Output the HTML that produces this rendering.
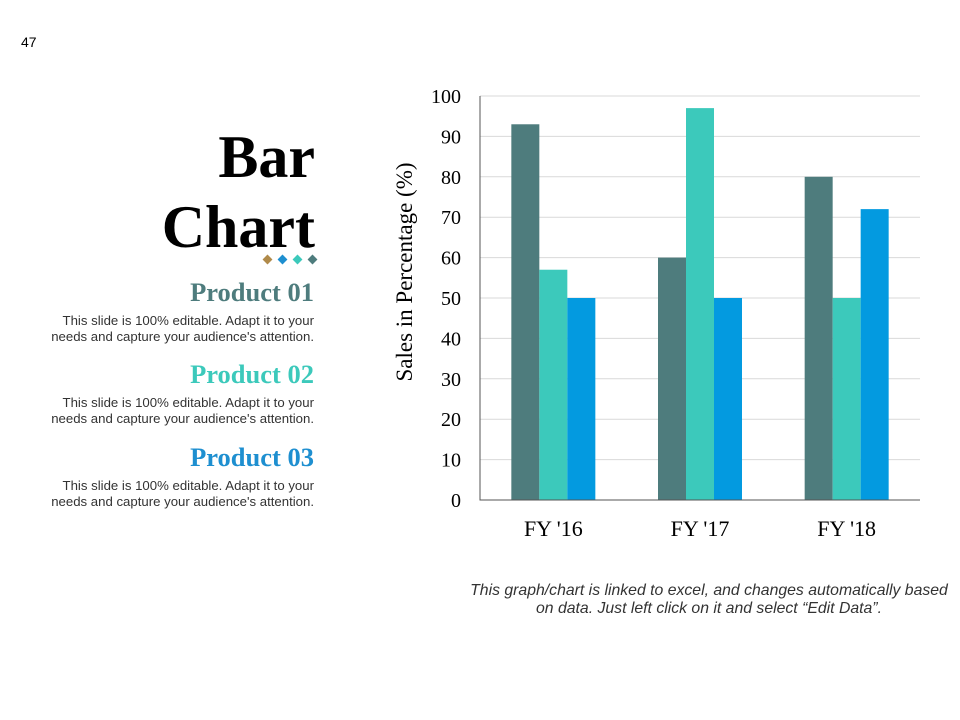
<!DOCTYPE html>
<html><head><meta charset="utf-8"><style>
body{margin:0;width:960px;height:720px;background:#fff;position:relative;overflow:hidden;font-family:"Liberation Sans",sans-serif}
.abs{position:absolute}
.title{right:645px;text-align:right;font-family:"Liberation Serif",serif;font-weight:bold;font-size:60px;line-height:70px;color:#000}
.ph{right:646px;text-align:right;font-family:"Liberation Serif",serif;font-weight:bold;font-size:26.5px}
.pd{right:646px;text-align:right;font-size:13.2px;line-height:16px;color:#333;width:272px}
</style></head><body>
<div class="abs" style="left:21px;top:34px;font-size:14px">47</div>
<div class="abs title" style="top:122px">Bar<br>Chart</div>
<svg class="abs" style="left:260px;top:253px" width="60" height="14">
<rect x="4" y="3" width="7" height="7" fill="#b08a4a" transform="rotate(45 7.5 6.5)"/>
<rect x="19" y="3" width="7" height="7" fill="#1e8fd0" transform="rotate(45 22.5 6.5)"/>
<rect x="34" y="3" width="7" height="7" fill="#3cc9bb" transform="rotate(45 37.5 6.5)"/>
<rect x="49" y="3" width="7" height="7" fill="#4e7c7d" transform="rotate(45 52.5 6.5)"/>
</svg>
<div class="abs ph" style="top:277px;color:#4e7c7d">Product 01</div>
<div class="abs pd" style="top:313px">This slide is 100% editable. Adapt it to your needs and capture your audience's attention.</div>
<div class="abs ph" style="top:359px;color:#3cc9bb">Product 02</div>
<div class="abs pd" style="top:395px">This slide is 100% editable. Adapt it to your needs and capture your audience's attention.</div>
<div class="abs ph" style="top:442px;color:#1e8fd0">Product 03</div>
<div class="abs pd" style="top:478px">This slide is 100% editable. Adapt it to your needs and capture your audience's attention.</div>
<svg id="chart" class="abs" style="left:0;top:0" width="960" height="720"></svg>
<div class="abs" style="left:449px;top:582px;width:520px;text-align:center;font-style:italic;font-size:15.8px;line-height:18px;color:#333">This graph/chart is linked to excel, and changes automatically based<br>on data. Just left click on it and select “Edit Data”.</div>
<script>
const categories=["FY '16","FY '17","FY '18"];
const product1=[93,60,80];
const product2=[57,97,50];
const product3=[50,50,72];
const yTicks=[0,10,20,30,40,50,60,70,80,90,100];
const NS="http://www.w3.org/2000/svg";
const svg=document.getElementById('chart');
const x0=480,x1=920,yb=500,yt=96;
const y=v=>yb-(v/100)*(yb-yt);
const cw=(x1-x0)/categories.length, bw=28;
function mk(t,a){const e=document.createElementNS(NS,t);for(const k in a)e.setAttribute(k,a[k]);svg.appendChild(e);return e;}
yTicks.forEach(t=>{
 if(t>0){const g=mk('line',{x1:x0,x2:x1,y1:y(t),y2:y(t),stroke:'#d9d9d9','stroke-width':1});
 
 }
 const l=mk('text',{x:461,y:y(t)+7,'text-anchor':'end','font-family':'Liberation Serif,serif','font-size':20,fill:'#000'});
 l.textContent=t;
 
 
});
const series=[[product1,'#4e7c7d'],[product2,'#3cc9bb'],[product3,'#039ae0']];
categories.forEach((c,i)=>{
 const cx=x0+cw*(i+0.5);
 series.forEach(([vals,col],j)=>{
  const r=mk('rect',{x:cx-1.5*bw+j*bw,y:y(vals[i]),width:bw,height:yb-y(vals[i]),fill:col});
  
  
 });
 const l=mk('text',{x:cx,y:536,'text-anchor':'middle','font-family':'Liberation Serif,serif','font-size':22,fill:'#000'});
 l.textContent=c;
 
 
});
const ax=mk('path',{d:`M${x0} ${yt}V${yb}H${x1}`,stroke:'#555',fill:'none','stroke-width':1});


const yt2=mk('text',{x:0,y:0,transform:'translate(412,272) rotate(-90)','text-anchor':'middle','font-family':'Liberation Serif,serif','font-size':23,fill:'#000'});
yt2.textContent='Sales in Percentage (%)';


</script>
</body></html>
